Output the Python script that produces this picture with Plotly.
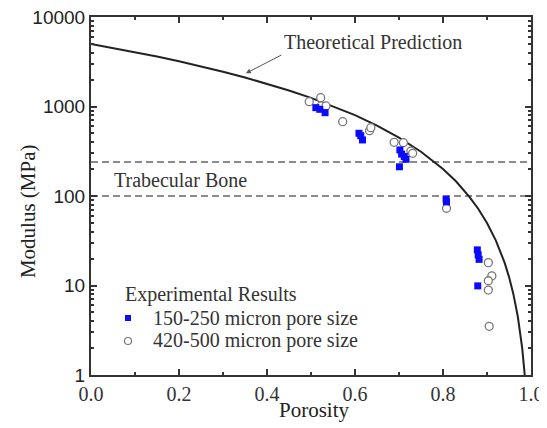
import plotly.graph_objects as go

# ---- data ----
p_theory = [0.0, 0.05, 0.1, 0.15, 0.2, 0.25, 0.3, 0.35, 0.4, 0.45, 0.5, 0.55, 0.6, 0.65,
            0.7, 0.75, 0.8, 0.83, 0.86, 0.88, 0.9, 0.92, 0.93, 0.94, 0.95, 0.96, 0.97,
            0.975, 0.98, 0.985, 0.988]
E_theory = [5000, 4510, 4050, 3610, 3200, 2810, 2450, 2110, 1800, 1510, 1250, 1010, 800, 612,
            450, 312, 200, 145, 98, 72, 50, 32, 24.5, 18, 12.5, 8, 4.5,
            3.1, 2.0, 1.1, 0.72]

p_small = [0.511, 0.520, 0.532, 0.609, 0.613, 0.617, 0.702, 0.706, 0.712, 0.716, 0.701,
           0.807, 0.808, 0.878, 0.880, 0.882, 0.879]
E_small = [971, 930, 853, 502, 472, 423, 327, 294, 276, 257, 212,
           92, 86, 25, 22, 19.6, 9.9]

p_large = [0.496, 0.522, 0.523, 0.534, 0.572, 0.633, 0.636, 0.689, 0.710, 0.727, 0.731,
           0.808, 0.903, 0.911, 0.903, 0.903, 0.905]
E_large = [1132, 1255, 1014, 1014, 676, 537, 580, 398, 394, 318, 300,
           73, 18, 12.8, 11.3, 8.9, 3.5]

bone_bounds = [100, 240]
x_ticks = [0.0, 0.2, 0.4, 0.6, 0.8, 1.0]
x_tick_text = ["0.0", "0.2", "0.4", "0.6", "0.8", "1.0"]
y_ticks = [1, 10, 100, 1000, 10000]
y_tick_text = ["1", "10", "100", "1000", "10000"]

SERIF = "Liberation Serif, Times New Roman, serif"
SANS = "Liberation Sans, Arial, sans-serif"
AX = "#333333"

fig = go.Figure()

# trabecular bone bounds (dashed)
for b in bone_bounds:
    fig.add_trace(go.Scatter(x=[0, 1], y=[b, b], mode="lines",
                             line=dict(color="#666666", width=1.5, dash="7px,4px"),
                             showlegend=False, hoverinfo="skip"))

fig.add_trace(go.Scatter(x=p_theory, y=E_theory, mode="lines",
                         line=dict(color="#222222", width=2), showlegend=False,
                         name="Theoretical Prediction"))

fig.add_trace(go.Scatter(x=p_large, y=E_large, mode="markers", showlegend=False,
                         name="420-500 micron pore size",
                         marker=dict(symbol="circle", size=8, color="white",
                                     line=dict(color="#777777", width=1.3))))
fig.add_trace(go.Scatter(x=p_small, y=E_small, mode="markers", showlegend=False,
                         name="150-250 micron pore size",
                         marker=dict(symbol="square", size=7, color="#0a0aff",
                                     line=dict(width=0))))

axis_common = dict(showline=True, linecolor=AX, linewidth=2, mirror="ticks",
                   ticks="inside", tickcolor=AX, tickwidth=1.5, ticklen=6,
                   showgrid=False, zeroline=False, automargin=False,
                   ticklabeloverflow="allow")

fig.update_xaxes(range=[0, 1], tickvals=x_ticks, ticktext=x_tick_text,
                 tickfont=dict(family=SERIF, size=20, color="#333333"),
                 minor=dict(ticks="inside", ticklen=3, tickcolor=AX, dtick=0.1, showgrid=False),
                 **axis_common)
fig.update_yaxes(type="log", range=[0, 4], tickvals=y_ticks, ticktext=y_tick_text,
                 tickfont=dict(family=SANS, size=19, color="#222222"),
                 minor=dict(ticks="inside", ticklen=3, tickcolor=AX, dtick="D1", showgrid=False),
                 **axis_common)


def label(text, x, y, size=20, color="#333333", xanchor="center", **kw):
    return dict(text=text, xref="paper", yref="paper", x=x, y=y, showarrow=False,
                xanchor=xanchor, yanchor="middle",
                font=dict(family=SERIF, size=size, color=color), **kw)


ann = [
    label("Porosity", 0.507, -0.098, size=21, color="#222222"),
    label("Modulus (MPa)", -0.143, 0.458, size=21, color="#222222", textangle=-90),
    label("Theoretical Prediction", 0.641, 0.930),
    dict(text="", xref="x", yref="y", x=0.352, y=3.371, ax=37, ay=-19,
         showarrow=True, arrowhead=2, arrowsize=1, arrowwidth=1, arrowcolor="#555555"),
    label("Trabecular Bone", 0.2045, 0.545),
    # legend (manual)
    label("Experimental Results", 0.0727, 0.2235, xanchor="left"),
    label("150-250 micron pore size", 0.1364, 0.1592, xanchor="left"),
    label("420-500 micron pore size", 0.1364, 0.095, xanchor="left"),
]

shapes = [
    dict(type="rect", xref="paper", yref="paper", xsizemode="pixel", ysizemode="pixel",
         xanchor=0.0841, yanchor=0.1592, x0=-3, x1=3, y0=-3, y1=3,
         fillcolor="#0a0aff", line=dict(width=0)),
    dict(type="circle", xref="paper", yref="paper", xsizemode="pixel", ysizemode="pixel",
         xanchor=0.0841, yanchor=0.095, x0=-3.5, x1=3.5, y0=-3.5, y1=3.5,
         fillcolor="white", line=dict(color="#777777", width=1.2)),
]

# page body has an 8px default margin, so the figure is sized to fit the 547x428 window
fig.update_layout(width=539, height=420, margin=dict(l=83, r=16, t=9, b=53),
                  plot_bgcolor="white", paper_bgcolor="white",
                  annotations=ann, shapes=shapes, showlegend=False)

fig.write_html("out.html")
